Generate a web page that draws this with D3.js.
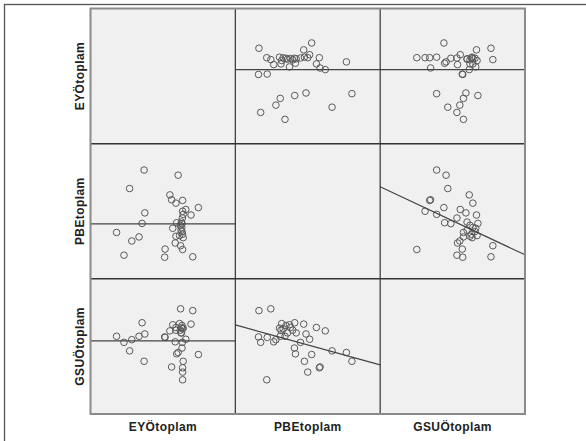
<!DOCTYPE html>
<html>
<head>
<meta charset="utf-8">
<script src="https://cdn.jsdelivr.net/npm/d3@7"></script>
<style>
  html, body { margin: 0; padding: 0; background: #fff; }
  svg { display: block; }
</style>
</head>
<body>
<div id="chart"></div>
<script>
const WIDTH = 586, HEIGHT = 441
const GRID = { left: 90.5, top: 8.5, right: 525, bottom: 414 }

const VARS = ['EYÖtoplam', 'PBEtoplam', 'GSUÖtoplam']

// one value per respondent, same order in all three arrays
const eyo  = [37, 60.5, 27, 18, 23.1, 28.5, 33.5, 35.6, 37.5, 74.5, 51.2, 51.5, 70.6, 63.6, 62.2, 58.5, 64, 59, 61.5,
              62.5, 63.2, 59.5, 69.4, 64, 63.6, 65.8, 59, 63.6, 56, 54.8, 56.8, 62, 63.2, 63, 63.5, 62.8, 63.4]
const pbe  = [80.5, 76.7, 66.8, 34.3, 17.5, 28, 31, 41, 48.8, 52.7, 16, 22, 16.3, 21.7, 24.5, 26.5, 30.5, 31.5, 32,
              36, 40.8, 41.5, 47.2, 47.7, 50, 51.3, 56, 58, 58.5, 62.1, 37.4, 39.6, 35, 38, 33, 42, 45]
const gsuo = [39, 45.5, 46.7, 57.5, 53, 55, 57.5, 67.5, 59.2, 44, 57, 56.7, 76.5, 25.3, 77.8, 53.4, 63.5, 62, 66.9,
              60, 48.8, 44.5, 66.5, 39, 31, 55.3, 64, 34.2, 34.8, 61.5, 66, 62, 65.5, 64, 63, 60, 53]
const DOMAIN = [0, 100]

// fit lines: row variable predicted at the low and high end of the column variable
const fitRow = [0, 0, 1, 1, 2, 2]
const fitCol = [1, 2, 0, 2, 0, 1]
const fitLo  = [54.8, 54.8, 40.7, 68.1, 54.1, 65.9]
const fitHi  = [54.8, 54.8, 40.7, 17.8, 54.1, 36.3]

const values = [eyo, pbe, gsuo]

const svg = d3.select('#chart').append('svg')
  .attr('width', WIDTH).attr('height', HEIGHT)

// outer frame (only left/top edges fall inside the picture)
svg.append('rect')
  .attr('x', 4.5).attr('y', 4.5).attr('width', 700).attr('height', 700)
  .attr('fill', 'none').attr('stroke', '#555').attr('stroke-width', 1.3)

const colBand = d3.scaleBand().domain(d3.range(3)).range([GRID.left, GRID.right])
const rowBand = d3.scaleBand().domain(d3.range(3)).range([GRID.top, GRID.bottom])
const cw = colBand.bandwidth(), ch = rowBand.bandwidth()

const xIn = d3.scaleLinear().domain(DOMAIN).range([0, cw])
const yIn = d3.scaleLinear().domain(DOMAIN).range([ch, 0])

// background
svg.append('rect')
  .attr('x', GRID.left).attr('y', GRID.top)
  .attr('width', GRID.right - GRID.left).attr('height', GRID.bottom - GRID.top)
  .attr('fill', '#f0f0f0')

// ── cells ────────────────────────────────────────────────────
const cells = []
for (let r = 0; r < 3; r++) for (let c = 0; c < 3; c++) cells.push({ r, c })

const gCell = svg.selectAll('g.cell').data(cells).join('g')
  .attr('class', 'cell')
  .attr('transform', d => `translate(${colBand(d.c)},${rowBand(d.r)})`)

gCell.filter(d => d.r !== d.c).each(function (d) {
  const g = d3.select(this)
  const pts = d3.range(eyo.length).map(i => [values[d.c][i], values[d.r][i]])
  g.selectAll('circle').data(pts).join('circle')
    .attr('cx', p => xIn(p[0]))
    .attr('cy', p => yIn(p[1]))
    .attr('r', 3.3)
    .attr('fill', 'none')
    .attr('stroke', '#5a5a5a')
    .attr('stroke-width', 1)
})

// fit lines
const fits = fitRow.map((r, i) => ({ r, c: fitCol[i], lo: fitLo[i], hi: fitHi[i] }))
svg.selectAll('line.fit').data(fits).join('line')
  .attr('class', 'fit')
  .attr('x1', d => colBand(d.c) + xIn(DOMAIN[0]))
  .attr('x2', d => colBand(d.c) + xIn(DOMAIN[1]))
  .attr('y1', d => rowBand(d.r) + yIn(d.lo))
  .attr('y2', d => rowBand(d.r) + yIn(d.hi))
  .attr('stroke', '#444')
  .attr('stroke-width', 1.2)

// dividers
svg.selectAll('line.vdiv').data([1, 2]).join('line')
  .attr('x1', d => colBand(d)).attr('x2', d => colBand(d))
  .attr('y1', GRID.top).attr('y2', GRID.bottom)
  .attr('stroke', '#333').attr('stroke-width', 1.2)
svg.selectAll('line.hdiv').data([1, 2]).join('line')
  .attr('y1', d => rowBand(d)).attr('y2', d => rowBand(d))
  .attr('x1', GRID.left).attr('x2', GRID.right)
  .attr('stroke', '#333').attr('stroke-width', 1.5)

// grid border
svg.append('rect')
  .attr('x', GRID.left).attr('y', GRID.top)
  .attr('width', GRID.right - GRID.left).attr('height', GRID.bottom - GRID.top)
  .attr('fill', 'none').attr('stroke', '#8a8a8a').attr('stroke-width', 2)

// ── labels ───────────────────────────────────────────────────
const font = '"Liberation Sans", Arial, sans-serif'
svg.selectAll('text.xlab').data(VARS).join('text')
  .attr('class', 'xlab')
  .attr('x', (d, i) => colBand(i) + cw / 2)
  .attr('y', 431)
  .attr('text-anchor', 'middle')
  .style('font-family', font).style('font-weight', 'bold')
  .style('font-size', '12px').style('letter-spacing', '0.4px')
  .attr('fill', '#222')
  .text(d => d)

svg.selectAll('text.ylab').data(VARS).join('text')
  .attr('class', 'ylab')
  .attr('transform', (d, i) => `translate(84,${rowBand(i) + ch / 2}) rotate(-90)`)
  .attr('text-anchor', 'middle')
  .style('font-family', font).style('font-weight', 'bold')
  .style('font-size', '12px').style('letter-spacing', '0.4px')
  .attr('fill', '#222')
  .text(d => d)
</script>
</body>
</html>
